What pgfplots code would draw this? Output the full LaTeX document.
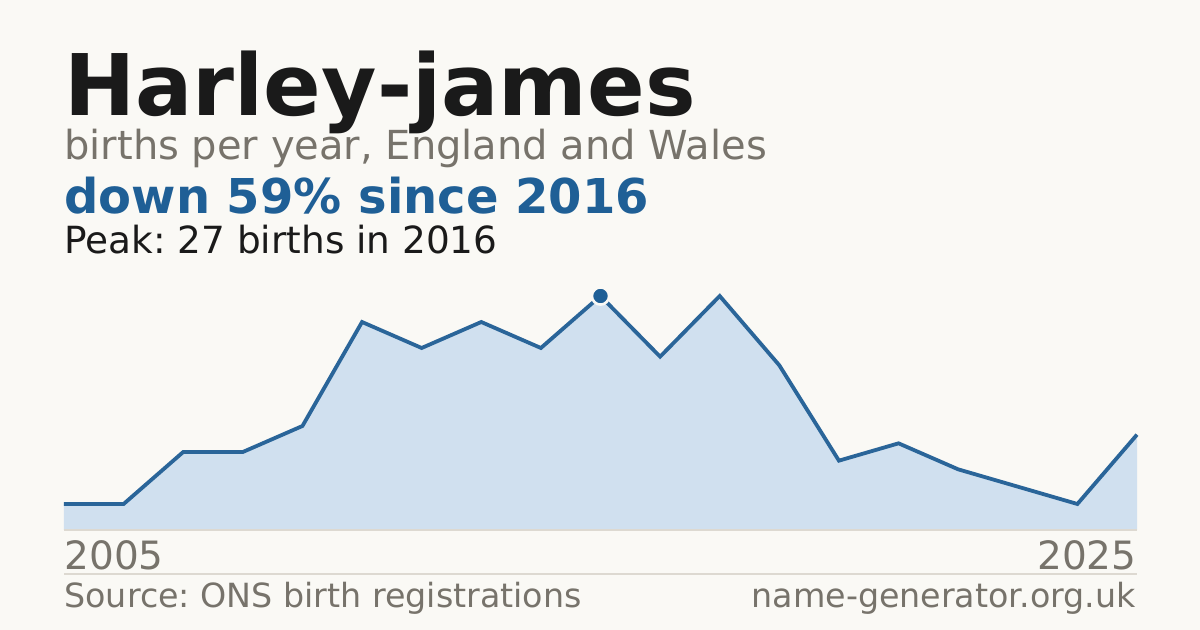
\documentclass[border=0pt]{standalone}
\usepackage{pgfplots}
\pgfplotsset{compat=1.18}
\usepackage{fontspec}
\setmainfont{DejaVu Sans}
\frenchspacing

\definecolor{bg}{HTML}{FAF9F5}
\definecolor{ink}{HTML}{1A1A1A}
\definecolor{muted}{HTML}{77736B}
\definecolor{accent}{HTML}{1F5F96}
\definecolor{linecol}{HTML}{2A6599}
\definecolor{areacol}{HTML}{D0E0EF}
\definecolor{rule}{HTML}{DDD9D1}

\begin{document}
\begin{tikzpicture}
  % canvas: 1200x630 px at 0.5pt per px
  \fill[bg] (0,0) rectangle (600pt,315pt);

  \begin{axis}[
    at={(32pt,50pt)}, anchor=south west,
    scale only axis,
    width=536.5pt, height=130pt,
    xmin=0, xmax=18,
    ymin=0, ymax=30,
    hide axis,
    clip=false,
  ]
    \addplot[fill=areacol, draw=none] coordinates {
      (0,3) (1,3) (2,9) (3,9) (4,12) (5,24) (6,21) (7,24) (8,21) (9,27)
      (10,20) (11,27) (12,19) (13,8) (14,10) (15,7) (16,5) (17,3) (18,11)
    } \closedcycle;
    \addplot[rule, line width=0.6pt] coordinates {(0,0) (18,0)};
    \addplot[linecol, line width=1.9pt, mark=none] coordinates {
      (0,3) (1,3) (2,9) (3,9) (4,12) (5,24) (6,21) (7,24) (8,21) (9,27)
      (10,20) (11,27) (12,19) (13,8) (14,10) (15,7) (16,5) (17,3) (18,11)
    };
    \addplot[only marks, mark=*, mark size=4.3pt,
      mark options={fill=accent, draw=bg, line width=1.3pt}]
      coordinates {(9,27)};
  \end{axis}

  % titles
  \node[anchor=base west, inner sep=0pt, text=ink]
    at (32pt,257pt) {\fontsize{42.5}{48}\selectfont\bfseries Harley-james};
  \node[anchor=base west, inner sep=0pt, text=muted]
    at (32pt,235pt) {\fontsize{20}{24}\selectfont births per year, England and Wales};
  \node[anchor=base west, inner sep=0pt, text=accent]
    at (32pt,208pt) {\fontsize{24}{28}\selectfont\bfseries down 59\% since 2016};
  \node[anchor=base west, inner sep=0pt, text=ink]
    at (32pt,188pt) {\fontsize{18.7}{22}\selectfont Peak: 27 births in 2016};

  % x end labels
  \node[anchor=base west, inner sep=0pt, text=muted]
    at (32pt,30pt) {\fontsize{19.5}{22}\selectfont 2005};
  \node[anchor=base east, inner sep=0pt, text=muted]
    at (568.5pt,30pt) {\fontsize{19.5}{22}\selectfont 2025};

  % footer
  \draw[rule, line width=0.6pt] (32pt,28pt) -- (568.5pt,28pt);
  \node[anchor=base west, inner sep=0pt, text=muted]
    at (32pt,11pt) {\fontsize{16.65}{20}\selectfont Source: ONS birth registrations};
  \node[anchor=base east, inner sep=0pt, text=muted]
    at (568pt,11pt) {\fontsize{16.65}{20}\selectfont name-generator.org.uk};
\end{tikzpicture}
\end{document}
